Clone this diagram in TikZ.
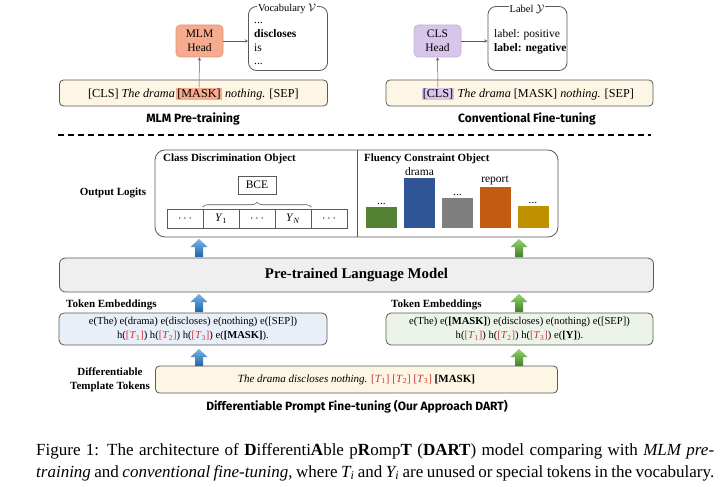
\documentclass[tikz,border=0pt]{standalone}
\usepackage{fontspec}
\setmainfont{Liberation Serif}
\newfontfamily\hfont{Fira Sans}
\usetikzlibrary{decorations.pathreplacing,calc}
\definecolor{mlmfill}{RGB}{246,170,142}
\definecolor{mlmdraw}{RGB}{228,150,122}
\definecolor{clsfill}{RGB}{216,198,234}
\definecolor{clsdraw}{RGB}{196,176,220}
\definecolor{cream}{RGB}{253,246,228}
\definecolor{lmfill}{RGB}{239,239,239}
\definecolor{embblue}{RGB}{233,239,248}
\definecolor{embgreen}{RGB}{236,244,233}
\definecolor{boxline}{RGB}{90,90,90}
\definecolor{tred}{RGB}{200,50,50}
\definecolor{bargreen}{RGB}{84,130,53}
\definecolor{barblue}{RGB}{47,85,151}
\definecolor{bargray}{RGB}{127,127,127}
\definecolor{barorange}{RGB}{197,90,17}
\definecolor{bargold}{RGB}{191,144,0}
\definecolor{arblueL}{RGB}{120,180,230}
\definecolor{arblueD}{RGB}{30,100,170}
\definecolor{argreenL}{RGB}{150,210,110}
\definecolor{argreenD}{RGB}{60,130,40}
\newcommand\Tk[1]{\textcolor{tred}{[\textit{T}\textsubscript{#1}]}}
\newcommand\blockarr[5]{%
  \shade[top color=#4, bottom color=#5]
    (#1-4,#3) -- (#1-4,#2+8) -- (#1-8.5,#2+8) -- (#1,#2) -- (#1+8.5,#2+8) -- (#1+4,#2+8) -- (#1+4,#3) -- cycle;}
\begin{document}
\begin{tikzpicture}[x=1pt,y=-1pt,
  font=\fontsize{11.5}{13}\selectfont,
  headbox/.style={rounded corners=4pt, line width=0.6pt, align=center, inner sep=0pt, minimum width=47pt, minimum height=32pt, font=\fontsize{11.5}{13.5}\selectfont},
  wbox/.style={draw=boxline, rounded corners=8pt, line width=0.8pt, inner sep=0pt, minimum width=79pt, minimum height=64pt},
  inbar/.style={draw=boxline, fill=cream, rounded corners=4pt, line width=0.8pt, inner sep=0pt, minimum height=26pt},
  bartext/.style={inner sep=0pt, font=\fontsize{12.2}{14}\selectfont},
  tarr/.style={-stealth, draw=boxline, line width=0.5pt},
  sect/.style={font=\hfont\bfseries\fontsize{12}{14}\selectfont},
  hdr/.style={font=\bfseries\fontsize{11}{13}\selectfont},
  cell/.style={draw=boxline, line width=0.6pt, minimum width=36pt, minimum height=19pt, inner sep=0pt},
  bar/.style={minimum width=31pt, inner sep=0pt, anchor=south},
  emb/.style={draw=boxline, rounded corners=5pt, line width=0.8pt, align=center, minimum height=32pt, inner sep=0pt, font=\fontsize{10.6}{14}\selectfont}
]
\useasboundingbox (0,0) rectangle (720,487);
\fill[white] (0,0) rectangle (720,487);

% ---------- MLM pre-training ----------
\node[headbox, fill=mlmfill, draw=mlmdraw] (mlmhead) at (199.5,41) {MLM\\Head};
\node[wbox] (vocab) at (288,38.5) {};
\node[fill=white, inner sep=1pt, font=\fontsize{10.5}{12}\selectfont] (vtitle) at (287,9) {Vocabulary $\mathcal{V}$};
\node[anchor=base west, inner sep=0pt] (v1) at (254,23.5) {...};
\node[anchor=base west, inner sep=0pt] (v2) at (254,38) {\textbf{discloses}};
\node[anchor=base west, inner sep=0pt] (v3) at (254,52) {is};
\node[anchor=base west, inner sep=0pt] (v4) at (254,64) {...};
\node[inbar, minimum width=268pt] (in1) at (193.5,93) {};
\node[fill=mlmfill, inner sep=1pt, anchor=base, font=\fontsize{12.2}{14}\selectfont] (mask1) at (199,97) {[MASK]};
\node[bartext, anchor=base east] (in1l) at ([xshift=-1pt]mask1.base west) {[CLS] \textit{The drama}};
\node[bartext, anchor=base west] (in1r) at ([xshift=3pt]mask1.base east) {\textit{nothing.} [SEP]};
\draw[tarr] (mask1.north) -- (mlmhead.south);
\draw[tarr] (mlmhead.east) -- (mlmhead.east -| vocab.west);
\node[sect] (t1) at (193,119) {MLM Pre-training};

% ---------- Conventional fine-tuning ----------
\node[headbox, fill=clsfill, draw=clsdraw] (clshead) at (437.5,41) {CLS\\Head};
\node[wbox] (labelbox) at (527.5,38.5) {};
\node[fill=white, inner sep=1pt, font=\fontsize{10.5}{12}\selectfont] (ltitle) at (527,9) {Label $\mathcal{Y}$};
\node[anchor=base west, inner sep=0pt] (l1) at (494,38) {label: positive};
\node[anchor=base west, inner sep=0pt] (l2) at (494,52) {\textbf{label: negative}};
\node[inbar, minimum width=267pt] (in2) at (519.5,93) {};
\node[fill=clsfill, inner sep=1pt, anchor=base, font=\fontsize{12.2}{14}\selectfont] (cls2) at (438,97) {[CLS]};
\node[bartext, anchor=base west] (in2r) at ([xshift=3pt]cls2.base east) {\textit{The drama} [MASK] \textit{nothing.} [SEP]};
\draw[tarr] (cls2.north) -- (clshead.south);
\draw[tarr] (clshead.east) -- (clshead.east -| labelbox.west);
\node[sect] (t2) at (527,119) {Conventional Fine-tuning};

% ---------- separator ----------
\draw[line width=1.7pt, dash pattern=on 6pt off 4pt] (58,135) -- (651,135);

% ---------- Output logits ----------
\node[hdr] (ol) at (113,193) {Output Logits};
\node[draw=boxline, rounded corners=10pt, line width=0.8pt, minimum width=403pt, minimum height=87pt, inner sep=0pt] (logits) at (356.5,193.5) {};
\draw[boxline, line width=0.8pt] (357,150) -- (357,237);
\node[hdr, anchor=west, inner sep=0pt] (cdo) at (163,159) {Class Discrimination Object};
\node[hdr, anchor=west, inner sep=0pt] (fco) at (364,159) {Fluency Constraint Object};
\node[draw=boxline, line width=0.6pt, minimum width=38pt, minimum height=18pt, inner sep=0pt] (bce) at (257,185) {BCE};
\node[cell] (c1) at (185,218.5) {$\cdots$};
\node[cell] (c2) at (221,218.5) {\textit{Y}\textsubscript{1}};
\node[cell] (c3) at (257,218.5) {$\cdots$};
\node[cell] (c4) at (293,218.5) {\textit{Y}\textsubscript{\textit{N}}};
\node[cell] (c5) at (329,218.5) {$\cdots$};
\draw[boxline, line width=0.6pt, decorate, decoration={brace, amplitude=5pt, raise=1.5pt}] (c2.north west) -- (c4.north east);

\node[bar, fill=bargreen, minimum height=21pt] (b1) at (381.5,228) {};
\node[bar, fill=barblue, minimum height=50pt] (b2) at (419.5,228) {};
\node[bar, fill=bargray, minimum height=30pt] (b3) at (457.5,228) {};
\node[bar, fill=barorange, minimum height=41pt] (b4) at (495,228) {};
\node[bar, fill=bargold, minimum height=22pt] (b5) at (533,228) {};
\node[above, inner sep=1.5pt] at (b1.north) {...};
\node[above, inner sep=1.5pt] at (b2.north) {drama};
\node[above, inner sep=1.5pt] at (b3.north) {...};
\node[above, inner sep=1.5pt] at (b4.north) {report};
\node[above, inner sep=1.5pt] at (b5.north) {...};

% ---------- LM ----------
\node[draw=boxline, fill=lmfill, rounded corners=6pt, line width=0.8pt, minimum width=594pt, minimum height=34pt, inner sep=0pt, font=\bfseries\fontsize{14.8}{18}\selectfont] (lm) at (356.5,275) {Pre-trained Language Model};

% ---------- embeddings ----------
\node[hdr, anchor=west, inner sep=0pt] (te1) at (66,305) {Token Embeddings};
\node[hdr, anchor=west, inner sep=0pt] (te2) at (391,305) {Token Embeddings};
\node[emb, fill=embblue, minimum width=268pt] (emb1) at (193,329) {e(The) e(drama) e(discloses) e(nothing) e([SEP])\\ h(\Tk1) h(\Tk2) h(\Tk3) e(\textbf{[MASK]}).};
\node[emb, fill=embgreen, minimum width=267pt] (emb2) at (519.5,329) {e(The) e(\textbf{[MASK]}) e(discloses) e(nothing) e([SEP])\\ h(\Tk1) h(\Tk2) h(\Tk3) e(\textbf{[Y]}).};

% ---------- template ----------
\node[hdr, align=center, font=\bfseries\fontsize{11}{14}\selectfont] (dtt) at (110,380) {Differentiable\\Template Tokens};
\node[inbar, minimum width=402pt, minimum height=27pt, font=\fontsize{11}{13}\selectfont] (tmpl) at (356.5,379.5) {\textit{The drama discloses nothing.} \Tk1 \Tk2 \Tk3 \textbf{[MASK]}};
\node[sect] (t3) at (357,407) {Differentiable Prompt Fine-tuning (Our Approach DART)};

% ---------- block arrows ----------
\blockarr{199}{239}{257}{arblueL}{arblueD}
\blockarr{199}{294}{312}{arblueL}{arblueD}
\blockarr{199}{349}{366}{arblueL}{arblueD}
\blockarr{519}{239}{257}{argreenL}{argreenD}
\blockarr{519}{294}{312}{argreenL}{argreenD}
\blockarr{519}{349}{366}{argreenL}{argreenD}

% ---------- caption ----------
\node[anchor=base west, inner sep=0pt, font=\fontsize{17}{19}\selectfont] (cap1) at (36,455) {\makebox[678pt][s]{Figure 1: The architecture of \textbf{D}ifferenti\textbf{A}ble p\textbf{R}omp\textbf{T} (\textbf{DART}) model comparing with \textit{MLM pre-}}};
\node[anchor=base west, inner sep=0pt, font=\fontsize{17}{19}\selectfont] (cap2) at (36,477) {\makebox[678pt][s]{\textit{training} and \textit{conventional fine-tuning}, where \textit{T\textsubscript{i}} and \textit{Y\textsubscript{i}} are unused or special tokens in the vocabulary.}};
\end{tikzpicture}
\end{document}
